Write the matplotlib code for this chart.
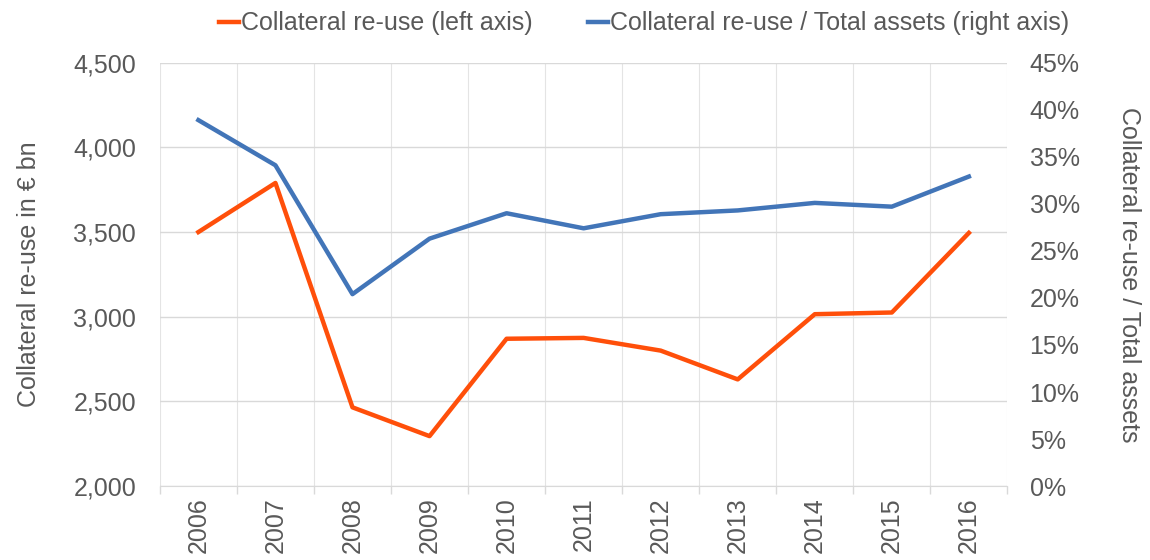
import matplotlib
matplotlib.use("Agg")
import matplotlib.pyplot as plt
from matplotlib.ticker import FuncFormatter, FixedLocator
import numpy as np

plt.rcParams['font.family'] = ['Liberation Sans', 'DejaVu Sans']

years = ['2006', '2007', '2008', '2009', '2010', '2011', '2012', '2013', '2014', '2015', '2016']
reuse_bn = [3500, 3790, 2465, 2295, 2870, 2875, 2800, 2630, 3015, 3025, 3495]
reuse_share = [38.9, 34.1, 20.4, 26.3, 29.0, 27.4, 28.9, 29.3, 30.1, 29.7, 32.9]

orange = '#FF4F0A'
blue = '#4275B8'
grey = '#595959'
grid = '#D9D9D9'
fs = 18

fig = plt.figure(figsize=(11.5, 5.6), dpi=100)
ax = fig.add_axes([0.139, 0.132, 0.737, 0.756])
ax2 = ax.twinx()

x = np.arange(len(years))
l1, = ax.plot(x, reuse_bn, color=orange, lw=3.2, label='Collateral re-use (left axis)')
l2, = ax2.plot(x, reuse_share, color=blue, lw=3.2, label='Collateral re-use / Total assets (right axis)')

ax.set_xlim(-0.5, len(years) - 0.5)
ax.set_ylim(2000, 4500)
ax.set_yticks(np.arange(2000, 4501, 500))
ax.yaxis.set_major_formatter(FuncFormatter(lambda v, p: f'{int(v):,}'))
ax2.set_ylim(0, 45)
ax2.set_yticks(np.arange(0, 46, 5))
ax2.yaxis.set_major_formatter(FuncFormatter(lambda v, p: f'{int(v)}%'))

ax.set_xticks(x)
ax.set_xticklabels(years, rotation=90)
ax.xaxis.set_minor_locator(FixedLocator(np.arange(-0.5, len(years), 1)))
ax.tick_params(axis='x', which='major', length=0, pad=8)
ax.tick_params(axis='x', which='minor', length=6, color=grid, width=1)
ax.grid(axis='y', color=grid, lw=1)
ax.grid(axis='x', which='minor', color=grid, lw=0.8, alpha=0.7)
ax.set_axisbelow(True)

for a in (ax, ax2):
    for s in ('top', 'left', 'right'):
        a.spines[s].set_visible(False)
    a.spines['bottom'].set_color(grid)
    a.tick_params(axis='y', length=0, labelsize=fs, labelcolor=grey)
ax.tick_params(axis='y', pad=17)
ax2.tick_params(axis='y', pad=16)
ax.tick_params(axis='x', labelsize=fs, labelcolor=grey)
ax2.spines['bottom'].set_visible(False)

ax.set_ylabel('Collateral re-use in € bn', fontsize=fs, color=grey, labelpad=23)
ax2.set_ylabel('Collateral re-use / Total assets', fontsize=fs, color=grey, rotation=270, labelpad=44)

fig.legend(handles=[l1, l2], loc='upper center', bbox_to_anchor=(0.56, 1.02), ncol=2, frameon=False,
           fontsize=fs, labelcolor=grey, handlelength=0.8, handletextpad=0.1, columnspacing=2.2)

fig.savefig('out.png', dpi=100)
